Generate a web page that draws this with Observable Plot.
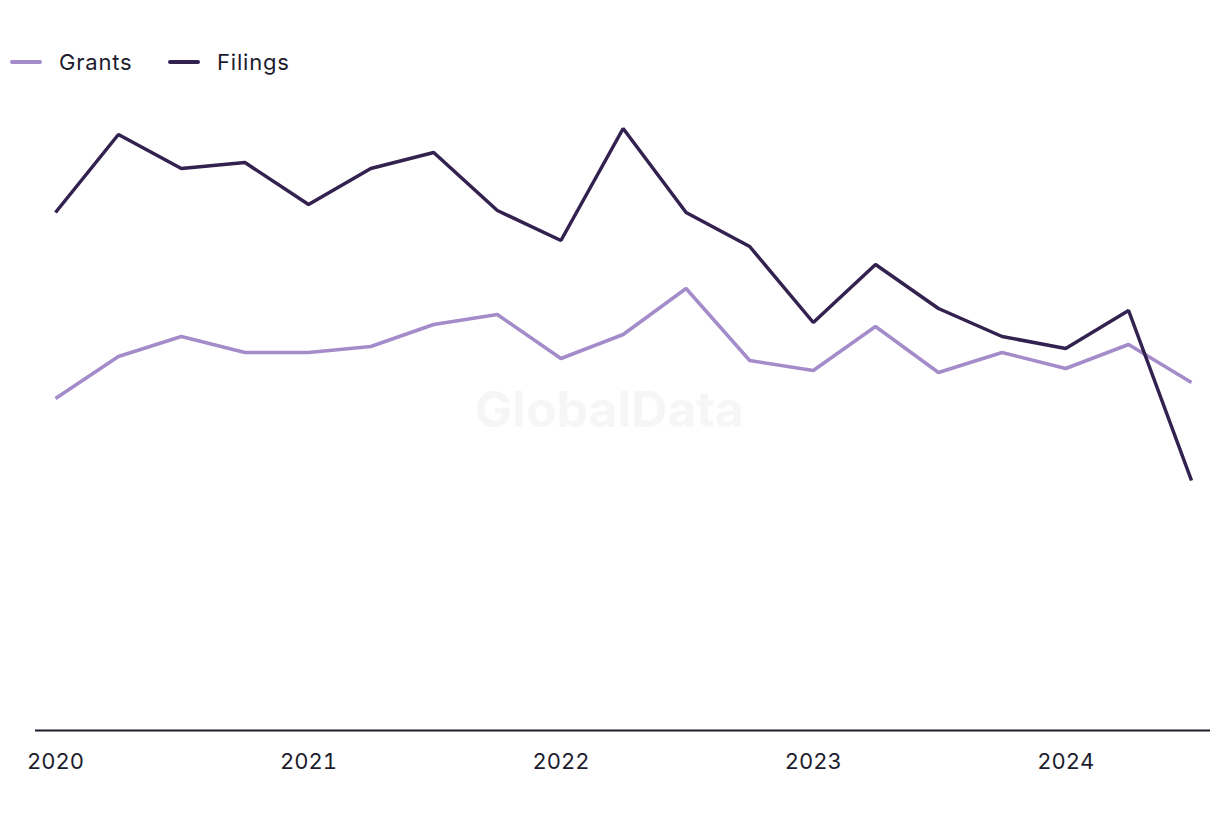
<!DOCTYPE html>
<html>
<head>
<meta charset="utf-8">
<script src="https://cdn.jsdelivr.net/npm/d3@7"></script>
<script src="https://cdn.jsdelivr.net/npm/@observablehq/plot@0.6"></script>
<style>
  html, body { margin: 0; padding: 0; background: #fff; }
  body { width: 1220px; height: 820px; overflow: hidden; font-family: Inter, "Noto Sans", sans-serif; color: #1c1c2e; }
  #legend { height: 70px; position: relative; }
  .item { position: absolute; top: 49px; font-size: 22px; line-height: 26px; display: flex; align-items: center; letter-spacing: 0.8px; }
  .sw { display: inline-block; width: 32px; height: 4px; border-radius: 2px; margin-right: 17px; }
  #chart svg { display: block; }
</style>
</head>
<body>
<div id="legend">
  <div class="item" style="left:10px"><span class="sw" style="background:#a48bc9"></span>Grants</div>
  <div class="item" style="left:168px"><span class="sw" style="background:#33214f"></span>Filings</div>
</div>
<div id="chart"></div>
<script>
const quarters = ["2020-01-01","2020-04-01","2020-07-01","2020-10-01",
  "2021-01-01","2021-04-01","2021-07-01","2021-10-01",
  "2022-01-01","2022-04-01","2022-07-01","2022-10-01",
  "2023-01-01","2023-04-01","2023-07-01","2023-10-01",
  "2024-01-01","2024-04-01","2024-07-01"];
const filings = [259, 298, 281, 284, 263, 281, 289, 260, 245, 301, 259, 242, 204, 233, 211, 197, 191, 210, 125];
const grants  = [166, 187, 197, 189, 189, 192, 203, 208, 186, 198, 221, 185, 180, 202, 179, 189, 181, 193, 174];
const seriesNames = ["Grants", "Filings"];
const seriesColors = ["#a48bc9", "#33214f"];
const yearTicks = ["2020-01-01","2021-01-01","2022-01-01","2023-01-01","2024-01-01"];

const data = [];
quarters.forEach((q, i) => {
  data.push({date: new Date(q), value: grants[i], series: "Grants"});
  data.push({date: new Date(q), value: filings[i], series: "Filings"});
});

const chart = Plot.plot({
  width: 1220,
  height: 750,
  marginLeft: 55,
  marginRight: 29,
  marginTop: 0,
  marginBottom: 90,
  style: {fontFamily: "Inter, 'Noto Sans', sans-serif", fontSize: "22px", color: "#1c1c2e", background: "#fff"},
  x: {type: "utc", domain: [new Date(quarters[0]), new Date(quarters[quarters.length - 1])], label: null},
  y: {domain: [0, 330], axis: null},
  color: {domain: seriesNames, range: seriesColors},
  marks: [
    Plot.text(["GlobalData"], {x: () => new Date("2022-03-12"), y: () => 160, fill: "#f6f6f6", fontSize: 50, fontWeight: 700}),
    Plot.ruleY([0], {stroke: "#1c1c2e", strokeWidth: 2, insetLeft: -20, insetRight: -19}),
    Plot.axisX(yearTicks.map(d => new Date(d)), {tickSize: 0, tickPadding: 23, tickFormat: d => String(d.getUTCFullYear()), fontSize: 22, fill: "#1c1c2e", label: null, style: {letterSpacing: "0.5px"}}),
    Plot.line(data, {x: "date", y: "value", z: "series", stroke: "series", strokeWidth: 3.5, strokeLinejoin: "miter", strokeLinecap: "butt"})
  ]
});
document.getElementById("chart").appendChild(chart);
</script>
</body>
</html>
